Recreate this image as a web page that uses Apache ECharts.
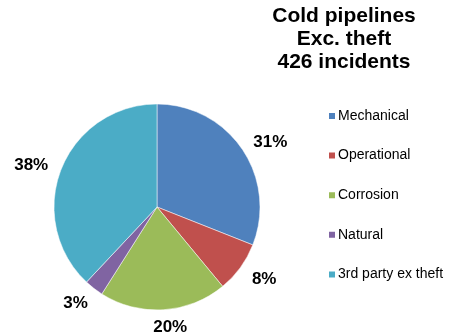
<!DOCTYPE html>
<html>
<head>
<meta charset="utf-8">
<script src="https://cdn.jsdelivr.net/npm/echarts@6/dist/echarts.min.js"></script>
<style>
  html, body { margin: 0; padding: 0; background: #fff; }
  #chart { width: 449px; height: 333px; }
</style>
</head>
<body>
<div id="chart"></div>
<script>
// Incident causes for cold pipelines (excluding theft)
const categories = ['Mechanical', 'Operational', 'Corrosion', 'Natural', '3rd party ex theft'];
const shares = [31, 8, 20, 3, 38];
const colors = ['#4F81BD', '#C0504D', '#9BBB59', '#8064A2', '#4BACC6'];
const titleLines = ['Cold pipelines', 'Exc. theft', '426 incidents'];

const total = shares.reduce((a, b) => a + b, 0);

// mid-angle (clockwise from 12 o'clock) of each slice, in radians
const midAngles = [];
let acc = 0;
shares.forEach(v => {
  midAngles.push(((acc + v / 2) / total) * Math.PI * 2);
  acc += v;
});

const chart = echarts.init(document.getElementById('chart'));
chart.setOption({
  animation: false,
  title: {
    text: titleLines.join('\n'),
    left: 344,
    top: 5,
    padding: 0,
    textAlign: 'center',
    textStyle: {
      fontFamily: 'Liberation Sans, Arial, sans-serif',
      fontSize: 21,
      fontWeight: 'bold',
      lineHeight: 23,
      color: '#000'
    }
  },
  legend: {
    orient: 'vertical',
    left: 327,
    top: 109,
    padding: 0,
    itemWidth: 8,
    itemHeight: 8,
    itemGap: 25.6,
    icon: 'rect',
    selectedMode: false,
    textStyle: {
      fontFamily: 'Liberation Sans, Arial, sans-serif',
      fontSize: 14,
      color: '#000',
      padding: [0, 0, 0, -3]
    },
    data: categories
  },
  series: [{
    type: 'pie',
    center: [157, 207],
    radius: 103,
    startAngle: 90,
    clockwise: true,
    avoidLabelOverlap: false,
    itemStyle: { borderColor: '#fff', borderWidth: 0.5 },
    label: {
      show: true,
      position: 'outside',
      formatter: p => p.value + '%',
      fontFamily: 'Liberation Sans, Arial, sans-serif',
      fontSize: 17,
      fontWeight: 'bold',
      color: '#000'
    },
    labelLine: { show: false, length: 16, length2: 0 },
    // pull labels in toward the rim; near the top/bottom, centre them on the slice
    labelLayout: function (p) {
      const s = Math.sin(midAngles[p.dataIndex]);
      const a = Math.abs(s);
      const w = p.labelRect.width;
      const shift = (w / 2) * (1 - a) + 5 * a;
      return { dx: s >= 0 ? -shift : shift + 1, dy: 2 };
    },
    data: categories.map((name, i) => ({
      name: name,
      value: shares[i],
      itemStyle: { color: colors[i] }
    }))
  }]
});
</script>
</body>
</html>
